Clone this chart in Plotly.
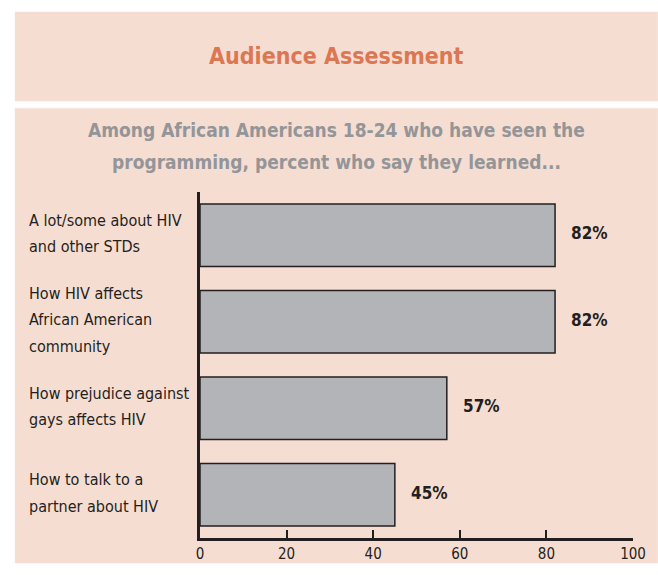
import plotly.graph_objects as go

categories = [
    "A lot/some about HIV<br>and other STDs",
    "How HIV affects<br>African American<br>community",
    "How prejudice against<br>gays affects HIV",
    "How to talk to a<br>partner about HIV",
]
values = [82, 82, 57, 45]
value_labels = ["82%", "82%", "57%", "45%"]
tick_vals = [0, 20, 40, 60, 80, 100]
title_text = "Audience Assessment"
subtitle_lines = [
    "Among African Americans 18-24 who have seen the",
    "programming, percent who say they learned...",
]

FONT = "Liberation Sans Narrow, Arial Narrow, DejaVu Sans Condensed, sans-serif"
PEACH = "#f6ddd2"
DARK = "#231f20"

W, H = 658, 575
L, R, T, B = 200, 23, 192, 28
PW, PH = W - L - R, H - T - B
LABEL_LINE = 26.5

def px_x(px):
    return (px - L) / PW

def px_y(py):
    return (H - B - py) / PH

fig = go.Figure()
fig.add_trace(go.Bar(
    x=values, y=categories, orientation="h",
    marker=dict(color="#b3b4b7", line=dict(color=DARK, width=1.5)),
    hoverinfo="skip",
))

annotations = []
for c in categories:
    lines = c.split("<br>")
    n = len(lines)
    for i, ln in enumerate(lines):
        offset = ((n - 1) / 2 - i) * LABEL_LINE + 2
        annotations.append(dict(
            x=px_x(26), xref="paper", y=c, yref="y", text=ln, showarrow=False,
            xanchor="left", yanchor="middle", align="left", yshift=offset,
            font=dict(family=FONT, size=16, color=DARK),
        ))
for c, v, t in zip(categories, values, value_labels):
    annotations.append(dict(
        x=v, xref="x", y=c, yref="y", text="<b>%s</b>" % t, showarrow=False,
        xanchor="left", yanchor="middle", xshift=14, yshift=2,
        font=dict(family=FONT, size=17, color=DARK),
    ))
annotations.append(dict(
    x=px_x(337), xref="paper", y=px_y(52), yref="paper",
    text="<b>%s</b>" % title_text, showarrow=False,
    xanchor="center", yanchor="middle",
    font=dict(family=FONT, size=23, color="#db7853"),
))
for ln, py in zip(subtitle_lines, [128, 161]):
    annotations.append(dict(
        x=px_x(337), xref="paper", y=px_y(py), yref="paper",
        text="<b>%s</b>" % ln, showarrow=False,
        xanchor="center", yanchor="middle", align="center",
        font=dict(family=FONT, size=19, color="#939598"),
    ))

shapes = [
    dict(type="rect", xref="paper", yref="paper", x0=px_x(14), x1=px_x(660),
         y0=px_y(99), y1=px_y(7), fillcolor=PEACH, line=dict(width=0), layer="below"),
    dict(type="rect", xref="paper", yref="paper", x0=px_x(14), x1=px_x(660),
         y0=px_y(573), y1=px_y(106), fillcolor=PEACH, line=dict(width=0), layer="below"),
]

fig.update_layout(
    width=W, height=H,
    margin=dict(l=L, r=R, t=T, b=B, pad=0),
    paper_bgcolor="white", plot_bgcolor="rgba(0,0,0,0)",
    showlegend=False, bargap=0.28,
    annotations=annotations, shapes=shapes,
    xaxis=dict(range=[0, 100], tickvals=tick_vals, showgrid=False, zeroline=False,
               showline=True, linecolor=DARK, linewidth=2.5,
               ticks="inside", ticklen=8, tickwidth=2, tickcolor=DARK,
               tickfont=dict(family=FONT, size=15, color=DARK), fixedrange=True),
    yaxis=dict(autorange="reversed", showticklabels=False, showgrid=False, zeroline=False,
               showline=True, linecolor=DARK, linewidth=2.5, ticks="", fixedrange=True),
)

fig.write_html(
    "out.html",
    config={"displayModeBar": False},
    post_script="document.body.style.margin='0';document.body.style.padding='0';",
)
